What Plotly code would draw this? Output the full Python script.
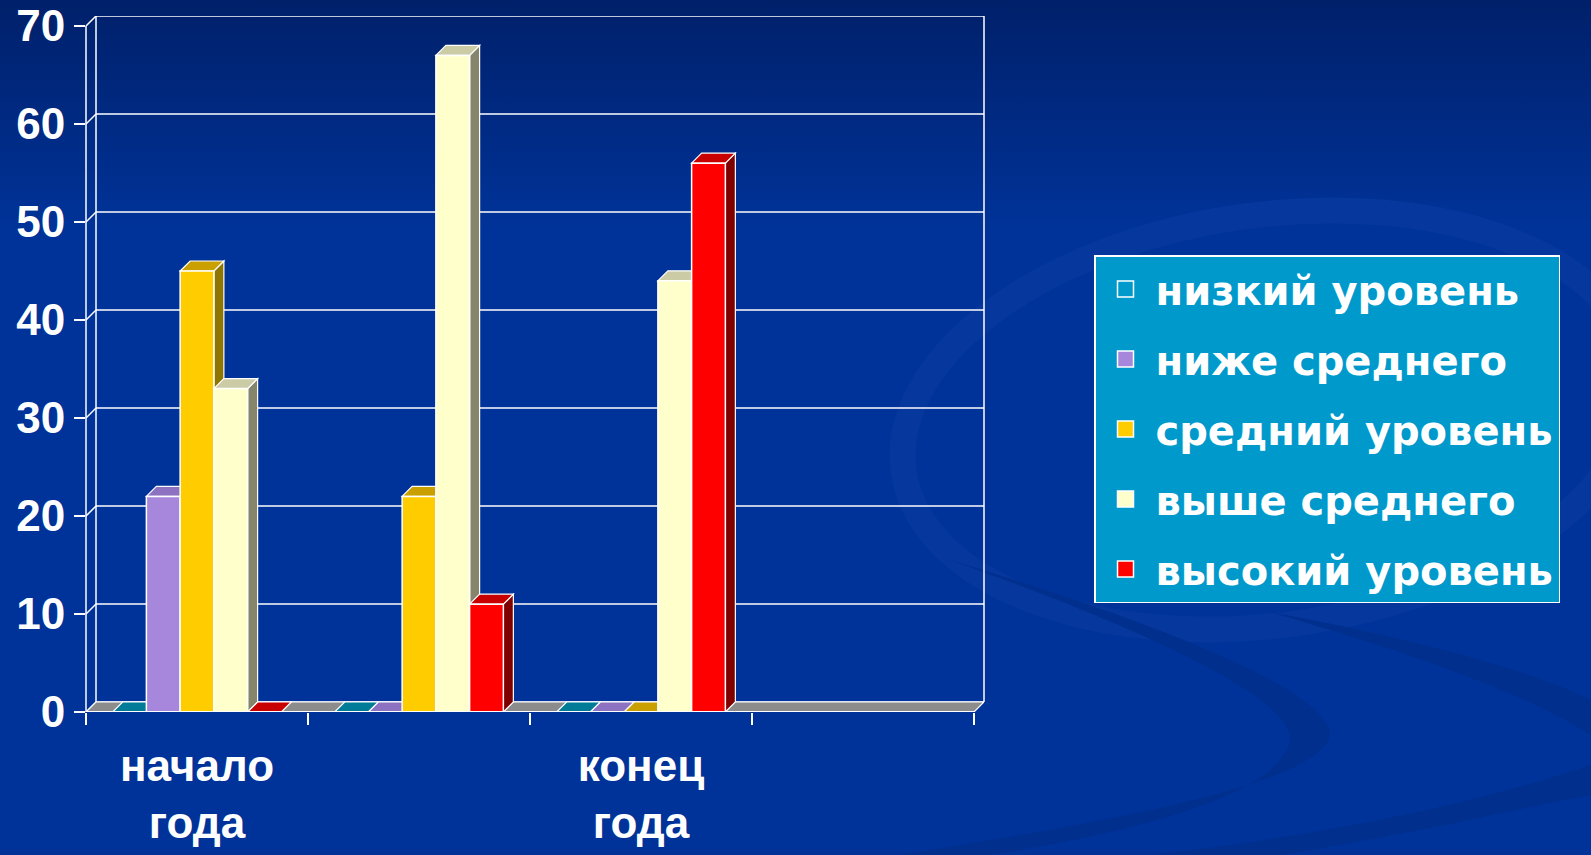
import base64
import plotly.graph_objects as go

# ---------------- data ----------------
categories = ["начало<br>года", " ", "конец<br>года", "  "]
series_names = ["низкий уровень", "ниже среднего", "средний уровень",
                "выше среднего", "высокий уровень"]
low_level = [0, 0, 0, None]
below_average = [22, 0, 0, None]
average_level = [45, 22, 0, None]
above_average = [33, 67, 44, None]
high_level = [0, 11, 56, None]
y_tick_values = [0, 10, 20, 30, 40, 50, 60, 70]

series_values = [low_level, below_average, average_level, above_average, high_level]

# ---------------- style ----------------
front_colors = ["#0099CC", "#A687DC", "#FFCC00", "#FFFFCC", "#FF0000"]
top_colors = ["#007C99", "#8C72C0", "#C9A000", "#CBCBA6", "#C80000"]
side_colors = ["#006680", "#6F5A9E", "#8F7600", "#85856C", "#800000"]

W_FIG, H_FIG = 1591, 855
PLOT_L, FRONT_TOP, FRONT_R, FRONT_B = 86, 26, 974, 712
DX_PX, DY_PX = 10, 10
Y_MAX = 70
plot_w = FRONT_R + DX_PX - PLOT_L
plot_h = FRONT_B - (FRONT_TOP - DY_PX)
px_per_cat = (FRONT_R - PLOT_L) / len(categories)
px_per_unit = (FRONT_B - FRONT_TOP) / Y_MAX
dx = DX_PX / px_per_cat
dy = DY_PX / px_per_unit
dx_frac = DX_PX / plot_w
BAR_W = 0.152
GROUP_START = -0.38
FONT = "Liberation Sans, Arial, sans-serif"
LEGEND_FONT = "DejaVu Sans, Liberation Sans, sans-serif"
WHITE = "#FFFFFF"

fig = go.Figure()
for i, (name, vals) in enumerate(zip(series_names, series_values)):
    fig.add_trace(go.Bar(
        x=categories, y=vals, name=name, legendgroup=name, showlegend=False,
        offset=GROUP_START + i * BAR_W, width=BAR_W,
        marker=dict(color=front_colors[i], line=dict(color=WHITE, width=1.5)),
        hoverinfo="skip",
    ))
# legend entries (square swatches)
for i, name in enumerate(series_names):
    fig.add_trace(go.Scatter(
        x=[None], y=[None], mode="markers", name=name, legendgroup=name,
        marker=dict(symbol="square", size=16, color=front_colors[i],
                    line=dict(color=WHITE, width=1.5)),
        hoverinfo="skip",
    ))

shapes = []
# back wall gridlines and connectors
for v in y_tick_values:
    shapes.append(dict(type="line", xref="paper", yref="y", x0=dx_frac, x1=1,
                       y0=v + dy, y1=v + dy, line=dict(color=WHITE, width=1.5), layer="below"))
    shapes.append(dict(type="line", xref="paper", yref="y", x0=0, x1=dx_frac,
                       y0=v, y1=v + dy, line=dict(color=WHITE, width=1.5), layer="below"))
for xf in (dx_frac, 1):
    shapes.append(dict(type="line", xref="paper", yref="y", x0=xf, x1=xf,
                       y0=dy, y1=Y_MAX + dy, line=dict(color=WHITE, width=1.5), layer="below"))
# front value axis
shapes.append(dict(type="line", xref="paper", yref="y", x0=0, x1=0, y0=0, y1=Y_MAX,
                   line=dict(color=WHITE, width=1.5), layer="below"))
# floor
xl, xr = -0.5, len(categories) - 0.5
shapes.append(dict(type="path", xref="x", yref="y",
                   path=f"M{xl},0 L{xl+dx},{dy} L{xr+dx},{dy} L{xr},0 Z",
                   fillcolor="#8C8C8C", line=dict(color=WHITE, width=1.2), layer="below"))
# 3D faces of bars
for c in range(len(categories)):
    for i, vals in enumerate(series_values):
        v = vals[c]
        if v is None:
            continue
        x0 = c + GROUP_START + i * BAR_W
        x1 = x0 + BAR_W
        if v > 0:
            shapes.append(dict(type="path", xref="x", yref="y",
                               path=f"M{x1},0 L{x1+dx},{dy} L{x1+dx},{v+dy} L{x1},{v} Z",
                               fillcolor=side_colors[i], line=dict(color=WHITE, width=1.2),
                               layer="below"))
        shapes.append(dict(type="path", xref="x", yref="y",
                           path=f"M{x0},{v} L{x0+dx},{v+dy} L{x1+dx},{v+dy} L{x1},{v} Z",
                           fillcolor=top_colors[i], line=dict(color=WHITE, width=1.2),
                           layer="below"))
# front category axis edge
shapes.append(dict(type="line", xref="x", yref="y", x0=xl, x1=xr, y0=0, y1=0,
                   line=dict(color=WHITE, width=2), layer="above"))

# background (gradient + swooshes) as svg image
svg = f"""<svg xmlns='http://www.w3.org/2000/svg' width='{W_FIG}' height='{H_FIG}' viewBox='0 0 {W_FIG} {H_FIG}' preserveAspectRatio='none'>
<defs><linearGradient id='g' x1='0' y1='0' x2='0' y2='1'>
<stop offset='0' stop-color='#00206A'/><stop offset='0.27' stop-color='#003399'/><stop offset='1' stop-color='#003399'/>
</linearGradient></defs>
<rect width='{W_FIG}' height='{H_FIG}' fill='url(#g)'/>
<ellipse cx='1270' cy='420' rx='370' ry='205' fill='none' stroke='#06379D' stroke-width='26' transform='rotate(-8 1270 420)'/>
<path d='M950,560 C1150,620 1330,690 1330,735 C1320,790 1050,830 900,855 L990,855 C1150,830 1290,790 1290,735 C1280,690 1120,620 950,560 Z' fill='#002F8E'/>
<path d='M1270,612 C1420,640 1530,670 1591,700 L1591,735 C1520,690 1400,650 1270,612 Z' fill='#002F8E'/>
<path d='M1591,765 C1440,815 1280,840 1150,855 L1280,855 C1410,835 1510,810 1591,795 Z' fill='#002F8E'/>
</svg>"""
src = "data:image/svg+xml;base64," + base64.b64encode(svg.encode("utf-8")).decode("ascii")

fig.update_layout(
    width=W_FIG, height=H_FIG,
    margin=dict(l=PLOT_L, r=W_FIG - (FRONT_R + DX_PX), t=FRONT_TOP - DY_PX, b=H_FIG - FRONT_B, pad=0,
                autoexpand=False),
    paper_bgcolor="#003399", plot_bgcolor="rgba(0,0,0,0)",
    barmode="overlay",
    shapes=shapes,
    images=[dict(source=src, xref="paper", yref="paper",
                 x=-PLOT_L / plot_w, y=1 + (FRONT_TOP - DY_PX) / plot_h,
                 sizex=W_FIG / plot_w, sizey=H_FIG / plot_h,
                 xanchor="left", yanchor="top", sizing="stretch", layer="below")],
    xaxis=dict(type="category", categoryorder="array", categoryarray=categories,
               range=[xl, xl + plot_w / px_per_cat], automargin=False,
               showgrid=False, zeroline=False, showline=False,
               ticks="outside", tickson="boundaries", ticklen=12, tickwidth=2, tickcolor=WHITE,
               tickfont=dict(family=FONT, size=44, color=WHITE, weight="bold"),
               ticklabelstandoff=24),
    yaxis=dict(range=[0, Y_MAX + dy], tickvals=y_tick_values, automargin=False,
               showgrid=False, zeroline=False, showline=False,
               ticks="outside", ticklen=11, tickwidth=2, tickcolor=WHITE,
               tickfont=dict(family=FONT, size=44, color=WHITE, weight="bold")),
    legend=dict(x=(1094 - PLOT_L) / plot_w, y=(FRONT_B - 255) / plot_h,
                xanchor="left", yanchor="top",
                bgcolor="#0099CC", bordercolor=WHITE, borderwidth=1.5,
                font=dict(family=LEGEND_FONT, size=40, color=WHITE, weight="bold"),
                tracegroupgap=15, traceorder="grouped", itemsizing="trace", itemwidth=50),
    showlegend=True,
    hovermode=False,
)

fig.write_html("out.html", config={"displayModeBar": False},
               post_script="document.body.style.margin='0';document.body.style.overflow='hidden';")
